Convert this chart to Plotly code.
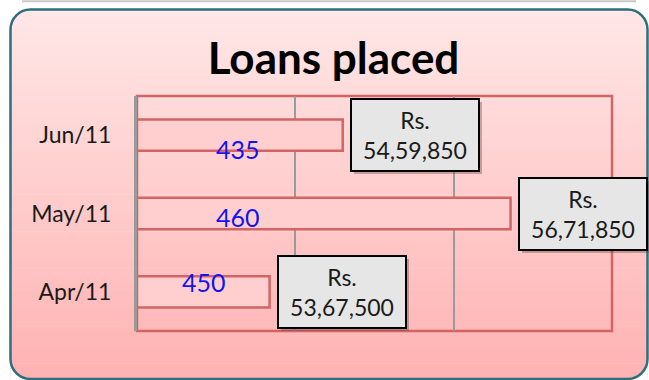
import plotly.graph_objects as go

# ---------------- data ----------------
categories = ["Apr/11", "May/11", "Jun/11"]
loan_amounts = [5367500, 5671850, 5459850]
loan_counts = [450, 460, 435]
axis_min, axis_max, axis_step = 5200000, 5800000, 200000

# ---------------- geometry helpers (style only) ----------------
W, H = 649, 380
ML, MR, MT, MB = 137, 37, 96, 49
PW, PH = W - ML - MR, H - MT - MB


def px(x):
    return (x - ML) / PW


def py(y):
    return (H - MB - y) / PH


def inr(n):
    s = str(int(n))
    last3, rest = s[-3:], s[:-3]
    parts = []
    while len(rest) > 2:
        parts.insert(0, rest[-2:])
        rest = rest[:-2]
    if rest:
        parts.insert(0, rest)
    return ",".join(parts + [last3])


shapes = []

# background frame with vertical gradient
fx0, fx1, fy0, fy1, rad = 10.5, 647.5, 9.5, 379.0, 20
top_rgb = (255, 231, 231)
bot_rgb = (255, 178, 178)
nb = 70
for i in range(nb):
    ya = fy0 + (fy1 - fy0) * i / nb
    yb = fy0 + (fy1 - fy0) * (i + 1) / nb + 0.6
    t = (i + 0.5) / nb
    c = tuple(round(top_rgb[k] + (bot_rgb[k] - top_rgb[k]) * t) for k in range(3))
    shapes.append(dict(type="rect", xref="paper", yref="paper", layer="below",
                       x0=px(fx0), x1=px(fx1), y0=py(ya), y1=py(min(yb, fy1)),
                       line=dict(width=0), fillcolor="rgb(%d,%d,%d)" % c))

k = 0.5523


def P(x, y):
    return "%.5f,%.5f" % (px(x), py(y))


# corner masks (white outside the rounded corners)
corners = [
    (fx0, fy0, fx0 + rad, fy0, fx0, fy0 + rad),
    (fx1, fy0, fx1 - rad, fy0, fx1, fy0 + rad),
    (fx0, fy1, fx0 + rad, fy1, fx0, fy1 - rad),
    (fx1, fy1, fx1 - rad, fy1, fx1, fy1 - rad),
]
for cx, cy, ax, ay, bx, by in corners:
    c1x = ax + (cx - ax) * k
    c2y = by + (cy - by) * k
    path = "M%s L%s C%s %s %s Z" % (P(cx, cy), P(ax, ay), P(c1x, ay), P(bx, c2y), P(bx, by))
    shapes.append(dict(type="path", xref="paper", yref="paper", layer="below",
                       path=path, fillcolor="white", line=dict(width=0)))

# rounded border
r = rad
border = ("M%s L%s C%s %s %s L%s C%s %s %s L%s C%s %s %s L%s C%s %s %s Z" % (
    P(fx0 + r, fy0), P(fx1 - r, fy0),
    P(fx1 - r + k * r, fy0), P(fx1, fy0 + r - k * r), P(fx1, fy0 + r),
    P(fx1, fy1 - r),
    P(fx1, fy1 - r + k * r), P(fx1 - r + k * r, fy1), P(fx1 - r, fy1),
    P(fx0 + r, fy1),
    P(fx0 + r - k * r, fy1), P(fx0, fy1 - r + k * r), P(fx0, fy1 - r),
    P(fx0, fy0 + r),
    P(fx0, fy0 + r - k * r), P(fx0 + r - k * r, fy0), P(fx0 + r, fy0)))
shapes.append(dict(type="path", xref="paper", yref="paper", layer="below",
                   path=border, line=dict(color="#2F6E7D", width=2.5)))

# faint line of the element above
shapes.append(dict(type="line", xref="paper", yref="paper", layer="below",
                   x0=px(22), x1=px(636), y0=py(1.2), y1=py(1.2),
                   line=dict(color="#C8C8C8", width=2)))

# plot area red frame
shapes.append(dict(type="rect", xref="paper", yref="paper", layer="between",
                   x0=0, x1=1, y0=0, y1=1,
                   line=dict(color="#D36464", width=2.5), fillcolor="rgba(0,0,0,0)"))

fig = go.Figure()
fig.add_trace(go.Bar(
    y=categories, x=[a - axis_min for a in loan_amounts], base=axis_min,
    orientation="h", width=0.4,
    marker=dict(color="#FFCFCF", line=dict(color="#D36464", width=2.5)),
    hoverinfo="skip",
))

annotations = []
# callout boxes with shadow
for cat, amt in zip(categories, loan_amounts):
    annotations.append(dict(
        x=amt, y=cat, xref="x", yref="y", xanchor="left", yanchor="middle",
        xshift=10, yshift=-3, text=" ", showarrow=False,
        width=122, height=66, bgcolor="rgba(90,60,60,0.35)", borderpad=2, borderwidth=2,
        bordercolor="rgba(0,0,0,0)"))
    annotations.append(dict(
        x=amt, y=cat, xref="x", yref="y", xanchor="left", yanchor="middle",
        xshift=7, yshift=0, text="Rs.<br>" + inr(amt), showarrow=False,
        width=122, height=66, bgcolor="#E6E6E6", bordercolor="#000000",
        borderwidth=2, borderpad=2, align="center", valign="middle",
        font=dict(family="Lato", size=23, color="#1A1A1A")))

# blue count labels
label_xpx = [204, 238, 238]
label_dy = [9.5, -3, -13.5]
for cat, cnt, lx, dy in zip(categories, loan_counts, label_xpx, label_dy):
    annotations.append(dict(
        x=px(lx), y=cat, xref="paper", yref="y", xanchor="center", yanchor="middle",
        yshift=dy, text=str(cnt), showarrow=False,
        font=dict(family="Lato", size=25, color="#1414F0")))

fig.update_layout(
    width=W, height=H,
    margin=dict(l=ML, r=MR, t=MT, b=MB, pad=0),
    paper_bgcolor="white", plot_bgcolor="rgba(0,0,0,0)",
    showlegend=False,
    title=dict(text="Loans placed", x=333.5 / W, xanchor="center", xref="container",
               y=1 - 59 / H, yanchor="middle", yref="container",
               font=dict(family="Lato", size=44, color="#000000", weight="bold")),
    xaxis=dict(range=[axis_min, axis_max], dtick=axis_step, tick0=axis_min,
               showticklabels=False, showgrid=True, gridcolor="#9A9A9A", gridwidth=2,
               zeroline=False, showline=False, fixedrange=True),
    yaxis=dict(categoryorder="array", categoryarray=categories,
               range=[-0.5, 2.5], showgrid=False, zeroline=False,
               showline=True, linecolor="#9A9A9A", linewidth=3,
               ticks="", ticklabelstandoff=18,
               tickfont=dict(family="Lato", size=23, color="#1A1A1A"), fixedrange=True),
    shapes=shapes,
    annotations=annotations,
)

fig.write_html("out.html", config={"displayModeBar": False},
               post_script="document.body.style.margin='0';document.body.style.padding='0';")
